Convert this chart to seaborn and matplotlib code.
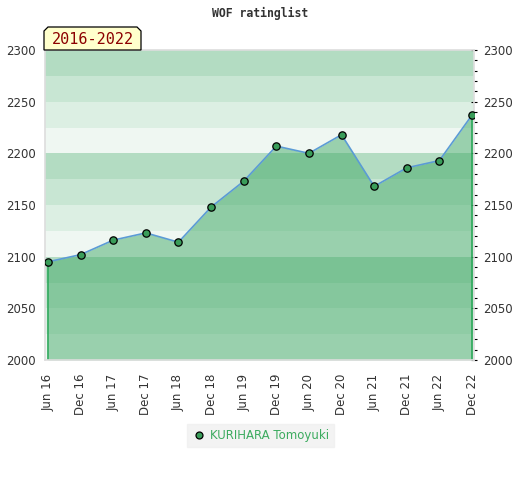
import matplotlib
matplotlib.use("Agg")
import matplotlib.pyplot as plt
from matplotlib.patches import Polygon
from matplotlib.lines import Line2D
from matplotlib.ticker import MultipleLocator
import seaborn as sns
import pandas as pd
import numpy as np

periods = ["Jun 16", "Dec 16", "Jun 17", "Dec 17", "Jun 18", "Dec 18", "Jun 19",
           "Dec 19", "Jun 20", "Dec 20", "Jun 21", "Dec 21", "Jun 22", "Dec 22"]
ratings = [2095, 2102, 2116, 2123, 2114, 2148, 2173,
           2207, 2200, 2218, 2168, 2186, 2193, 2237]
player = "KURIHARA Tomoyuki"
title = "WOF ratinglist"
range_label = "2016-2022"

sns.set_theme(style="white")
plt.rcParams['font.family'] = ['DejaVu Sans']

df = pd.DataFrame({"idx": np.arange(len(periods)), "rating": ratings, "player": player})

fig = plt.figure(figsize=(5.2, 4.8), dpi=100)
ax = fig.add_axes([45/520, 1-360/480, (474-45)/520, 310/480])

ymin, ymax = 2000, 2300
band_colors = ["#eff7f2", "#dcefe3", "#c8e6d3", "#b3dcc2"]
for lo in range(ymin, ymax, 25):
    k = ((lo - ymin) // 25) % 4
    ax.axhspan(lo, lo + 25, color=band_colors[k], lw=0, zorder=0)

ax.fill_between(df["idx"], df["rating"], ymin, color="#3ca762", alpha=0.48,
                lw=0, zorder=1)
ax.vlines([df["idx"].iloc[0], df["idx"].iloc[-1]], ymin,
          [df["rating"].iloc[0], df["rating"].iloc[-1]], color="#2ca85a", lw=1.2, zorder=2)

sns.lineplot(data=df, x="idx", y="rating", ax=ax, color="#5b9bd5", lw=1.2,
             zorder=3, legend=False)
sns.scatterplot(data=df, x="idx", y="rating", ax=ax, color="#3a9d5a",
                edgecolor="black", linewidth=0.9, s=28, zorder=4, legend=False)

step = 424/13
ax.set_xlim(-3/step, 13 + 2/step)
ax.set_ylim(ymin, ymax)
ax.set_xticks(df["idx"])
ax.set_xticklabels(periods, rotation=90, fontsize=8.5, color="#333333")
ax.set_xlabel("")
ax.set_ylabel("")

ax.yaxis.set_major_locator(MultipleLocator(50))
ax.yaxis.set_minor_locator(MultipleLocator(10))
ax.tick_params(axis="y", which="both", left=False, right=True,
               labelleft=True, labelright=True, labelsize=8.5, labelcolor="#333333")
ax.tick_params(axis="y", which="major", direction="inout", length=5, width=0.8,
               color="black", pad=4)
ax.tick_params(axis="y", which="minor", direction="out", length=2.5, width=0.8,
               color="black")
ax.tick_params(axis="x", which="both", bottom=False, pad=4)

for sp in ax.spines.values():
    sp.set_color("#dddddd")
    sp.set_linewidth(1.2)

fig.text(260/520, 1-13/480, title, ha="center", va="center", fontsize=8.3,
         family="DejaVu Sans Mono", fontweight="bold", color="#333333")

# range label box with chamfered top corners
x0, x1, y0, y1, c = 44, 141, 50, 27, 4
pts = [(x0, y0), (x0, y1 + c), (x0 + c, y1), (x1 - c, y1), (x1, y1 + c), (x1, y0)]
pts = [(px/520, 1 - py/480) for px, py in pts]
fig.patches.append(Polygon(pts, closed=True, transform=fig.transFigure,
                           facecolor="#ffffcc", edgecolor="black", lw=0.9, zorder=5))
fig.text((x0 + x1)/2/520, 1 - 39.5/480, range_label, ha="center", va="center",
         fontsize=10.9, family="DejaVu Sans Mono", color="#8b0000", zorder=6)

# legend
handle = Line2D([], [], ls="none", marker="o", markersize=5,
                markerfacecolor="#3a9d5a", markeredgecolor="black",
                markeredgewidth=0.9)
leg = ax.legend([handle], [player], loc="center",
                bbox_to_anchor=(260.5/520, 1-435.5/480),
                bbox_transform=fig.transFigure, frameon=True, fontsize=8.5,
                handletextpad=0.3, borderpad=0.45, handlelength=1.2,
                fancybox=False)
leg.get_frame().set_facecolor("#f0f0f0")
leg.get_frame().set_edgecolor("#f0f0f0")
for t in leg.get_texts():
    t.set_color("#3cab5f")

fig.savefig("out.png", dpi=100)
